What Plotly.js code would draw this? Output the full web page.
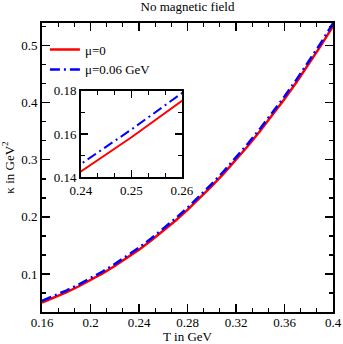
<!DOCTYPE html>
<html>
<head>
<meta charset="utf-8">
<script src="https://cdn.plot.ly/plotly-3.0.1.min.js"></script>
<style>html,body{margin:0;padding:0;background:#fff;}#chart{width:343px;height:344px;}</style>
</head>
<body>
<div id="chart"></div>
<script>
// Temperature T (GeV)
const T = [0.16,0.17,0.18,0.19,0.20,0.21,0.22,0.23,0.24,0.25,0.26,0.27,0.28,0.29,0.30,0.31,0.32,0.33,0.34,0.35,0.36,0.37,0.38,0.39,0.40];
// kappa (GeV^2), mu = 0
const kappaMu0 = [0.0500,0.0585,0.0678,0.0780,0.0890,0.1010,0.1139,0.1278,0.1426,0.1585,0.1754,0.1934,0.2124,0.2326,0.2539,0.2764,0.3000,0.3248,0.3509,0.3782,0.4068,0.4366,0.4678,0.5003,0.5345];
// kappa (GeV^2), mu = 0.06 GeV
const kappaMu006 = [0.0530,0.0616,0.0709,0.0812,0.0922,0.1043,0.1173,0.1312,0.1461,0.1621,0.1790,0.1971,0.2161,0.2364,0.2578,0.2803,0.3040,0.3289,0.3551,0.3825,0.4112,0.4411,0.4724,0.5050,0.5395];

const seriesNames = ['\u03bc=0', '\u03bc=0.06 GeV'];
const xTickVals = [0.16,0.2,0.24,0.28,0.32,0.36,0.4];
const xTickText = ['0.16','0.2','0.24','0.28','0.32','0.36','0.4'];
const yTickVals = [0.1,0.2,0.3,0.4,0.5];
const yTickText = ['0.1','0.2','0.3','0.4','0.5'];
const insetXTickVals = [0.24,0.25,0.26];
const insetXTickText = ['0.24','0.25','0.26'];
const insetYTickVals = [0.14,0.16,0.18];
const insetYTickText = ['0.14','0.16','0.18'];

const FONT = 'Liberation Serif, Tinos, Times New Roman, DejaVu Serif';
const red = '#ff0000', blue = '#0000ff';
const dashPat = '10px,4px,2px,4px';

const traces = [
  {x: T, y: kappaMu0, name: seriesNames[0], mode: 'lines', line: {color: red, width: 2.5}, xaxis: 'x', yaxis: 'y'},
  {x: T, y: kappaMu006, name: seriesNames[1], mode: 'lines', line: {color: blue, width: 2.5, dash: dashPat}, xaxis: 'x', yaxis: 'y'},
  {x: T, y: kappaMu0, name: seriesNames[0], mode: 'lines', line: {color: red, width: 2}, xaxis: 'x2', yaxis: 'y2', showlegend: false},
  {x: T, y: kappaMu006, name: seriesNames[1], mode: 'lines', line: {color: blue, width: 2, dash: dashPat}, xaxis: 'x2', yaxis: 'y2', showlegend: false}
];

const axisCommon = {
  showline: true, linecolor: '#000', linewidth: 2, mirror: 'allticks',
  ticks: 'inside', ticklen: 8, tickwidth: 1.2, tickcolor: '#000',
  showgrid: false, zeroline: false, tickmode: 'array',
  tickfont: {family: FONT, size: 13, color: '#000'}
};

const layout = {
  width: 343, height: 344,
  margin: {l: 42, r: 10, t: 23, b: 32},
  paper_bgcolor: '#fff', plot_bgcolor: '#fff',
  font: {family: FONT, size: 13, color: '#000'},
  title: {text: 'No magnetic field', font: {family: FONT, size: 13, color: '#000'}, x: 0.5, xref: 'paper', y: 0.982, yref: 'container', yanchor: 'middle'},
  showlegend: true,
  legend: {x: 0.01, xanchor: 'left', y: 0.96, yanchor: 'top', bgcolor: 'rgba(0,0,0,0)', borderwidth: 0, font: {family: FONT, size: 13, color: '#000'}, tracegroupgap: 0},
  xaxis: Object.assign({}, axisCommon, {
    range: [0.16, 0.4], tickvals: xTickVals, ticktext: xTickText, ticklabelstandoff: -3,
    minor: {ticks: 'inside', ticklen: 4, tickwidth: 1.2, tick0: 0.16, dtick: 0.04/3, tickcolor: '#000'},
    title: {text: 'T in GeV', font: {family: FONT, size: 13, color: '#000'}, standoff: 6},
    automargin: false
  }),
  yaxis: Object.assign({}, axisCommon, {
    range: [0.0333, 0.54], tickvals: yTickVals, ticktext: yTickText,
    minor: {ticks: 'inside', ticklen: 4, tickwidth: 1.2, tick0: 0.1/3, dtick: 0.1/3, tickcolor: '#000'},
    title: {text: '\u03ba in GeV<sup>2</sup>', font: {family: FONT, size: 13, color: '#000'}, standoff: 4},
    automargin: false
  }),
  xaxis2: Object.assign({}, axisCommon, {
    domain: [0.134, 0.481], anchor: 'y2', range: [0.24, 0.26],
    tickvals: insetXTickVals, ticktext: insetXTickText, ticklen: 7,
    minor: {ticks: 'inside', ticklen: 4, tickwidth: 1.2, tick0: 0.24, dtick: 0.01/3, tickcolor: '#000'}
  }),
  yaxis2: Object.assign({}, axisCommon, {
    domain: [0.467, 0.765], anchor: 'x2', range: [0.14, 0.18],
    tickvals: insetYTickVals, ticktext: insetYTickText, ticklen: 7,
    minor: {ticks: 'inside', ticklen: 4, tickwidth: 1.2, tick0: 0.14, dtick: 0.01, tickcolor: '#000'}
  })
};

Plotly.newPlot('chart', traces, layout, {displayModeBar: false, staticPlot: true});
</script>
</body>
</html>
